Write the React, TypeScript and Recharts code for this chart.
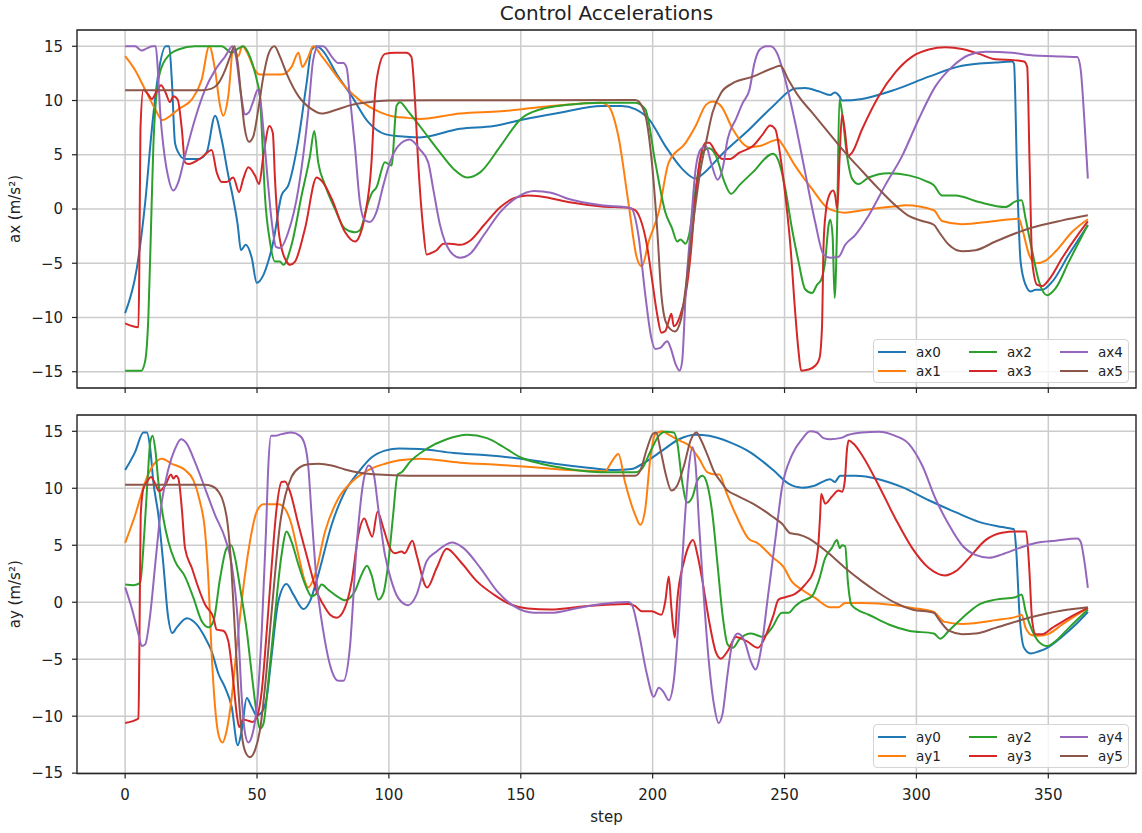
import {
  CartesianGrid,
  Legend,
  Line,
  LineChart,
  ReferenceArea,
  XAxis,
  YAxis,
} from "recharts";

type Pt = [number, number];

const FONT = "'DejaVu Sans', Verdana, sans-serif";
const INK = "#222";

const STEP_TICKS = [0, 50, 100, 150, 200, 250, 300, 350];
const ACC_TICKS = [-15, -10, -5, 0, 5, 10, 15];
const STEP_DOMAIN: [number, number] = [-18.25, 383.25];
const AX_DOMAIN: [number, number] = [-16.5, 16.5];
const AY_DOMAIN: [number, number] = [-15.03, 16.43];

const COLORS = ["#1f77b4", "#ff7f0e", "#2ca02c", "#d62728", "#9467bd", "#8c564b"];

// ---- ax (top panel) ----
const AX0: Pt[] = [
  [0, -9.6], [4.4, -5.5], [7.6, 0.6], [10.1, 7.3], [12.6, 12.5], [15.4, 15], [16.7, 15], [17.7, 11.9],
  [18.9, 6.1], [20.2, 5.2], [22.7, 4.6], [27.8, 4.6], [30.9, 5.2], [34.1, 8.6], [36.6, 6.4], [39.1, 3.1],
  [41, 0.9], [42.7, -1.5], [43.9, -3.8], [45.7, -3.3], [48, -4.5], [49.9, -6.8], [52.4, -6.1], [54.3, -4.8],
  [56.2, -3.0], [59.3, 1.25], [61.9, 2.2], [65.7, 6.4], [68.8, 11.6], [70.7, 14.7], [72.6, 15], [74.5, 14.7],
  [80.8, 12.2], [85.9, 10.4], [92.2, 8], [98.5, 6.9], [104, 6.7], [111.7, 6.6], [127, 7.4], [139.8, 7.65],
  [150, 8.2], [165.3, 8.9], [180.6, 9.5], [188.3, 9.5], [193.4, 9.2], [198.5, 8.3], [204.8, 5.8], [211.2, 3.7],
  [216.3, 2.8], [218.9, 3.2], [226.5, 5.1], [236.7, 7.35], [245.7, 9.5], [254, 11.1], [257.8, 11.15],
  [262.9, 10.85], [267.3, 10.5], [269, 10.75], [270.8, 10.4], [271.8, 10.0], [279.4, 10.15], [292, 11],
  [304.7, 12.2], [317.3, 13.2], [330, 13.5], [336.3, 13.6], [337, 13.4], [338.2, 2.8], [339.5, -4.85],
  [341.4, -7], [343.3, -7.6], [345.2, -7.45], [347.7, -7.45], [351.5, -6.7], [357.8, -4.2], [365, -1.5],
];

const AX1: Pt[] = [
  [0, 14.1], [3.8, 12.8], [7.6, 11], [11.4, 9.2], [14.1, 8.2], [17.7, 8.7], [20.2, 9.2], [25.3, 10.1],
  [29, 11.9], [31.9, 15], [34.1, 12.8], [36, 9.5], [37.2, 8.6], [39.1, 10.4], [41, 14.7], [42.9, 14.1],
  [44.4, 15], [46.7, 14.2], [49.2, 12.8], [51.1, 12.4], [59.3, 12.4], [63.1, 13.1], [65.7, 14.4], [67.2, 13.1],
  [69.4, 14], [71.3, 15], [74.5, 14.1], [83.3, 11.3], [89.6, 9.9], [96, 9], [102.3, 8.5], [107.3, 8.4],
  [111.7, 8.3], [127, 8.8], [142.3, 9.0], [161.5, 9.5], [180.6, 9.8], [183.2, 9.5], [187, 6.7], [190.8, 0.6],
  [194, -4.5], [195.9, -5.3], [198.5, -3.0], [202.3, -0.3], [206.1, 4.3], [212.5, 6.1], [216.3, 7.65],
  [220.2, 9.6], [222.7, 9.9], [225.9, 9.5], [230.4, 7.35], [236.7, 5.7], [240.6, 5.8], [245.7, 6.3],
  [247.7, 6.4], [249, 6], [254, 4], [260.4, 1.86], [266.7, 0.03], [273, -0.34], [279.4, -0.12], [292, 0.24],
  [295.8, 0.34], [306.6, -0.12], [309.7, -1.1], [317.3, -1.4], [330, -1.1], [338.9, -0.9], [340.1, -1.8],
  [342.7, -4.2], [345.2, -5], [349, -4.75], [352.8, -3.9], [359.1, -2.1], [365, -0.95],
];

const AX2: Pt[] = [
  [0, -14.9], [6.1, -14.9], [7.6, -14], [8.8, -10], [9.8, -1.8], [10.7, 5.8], [12.6, 11.9], [15.2, 13.75],
  [20.2, 14.7], [26.5, 15], [32.8, 15], [36.6, 15], [40.4, 14.4], [42.9, 14.8], [44.8, 15], [47.3, 14.05],
  [49.9, 11.9], [51.1, 10.4], [51.8, 7.35], [53, 1.25], [54.9, -3.0], [56.8, -4.85], [58.7, -4.85],
  [60, -5.15], [63.1, -3.3], [66.9, 1.25], [70.1, 4.9], [71.7, 7.2], [73.2, 4.3], [75.8, 2.2], [79.5, 0.03],
  [83.3, -1.8], [87.1, -2.15], [89, -1.95], [92.2, 0.64], [93.4, 1.4], [95.3, 2.0], [98.5, 4.3], [101, 4],
  [102.9, 9.5], [104.2, 9.85], [107.3, 9.0], [111.7, 7.65], [119.4, 5.2], [124.5, 3.7], [129.6, 2.9],
  [134.7, 3.4], [142.3, 5.8], [150, 8.3], [157.7, 9.2], [167.9, 9.6], [180.6, 9.8], [193.4, 9.8],
  [197.2, 9.2], [201, 4.3], [204.8, -0.3], [207.4, -1.8], [209.3, -3.0], [210.6, -2.8], [212.5, -3.2],
  [213.8, -2.4], [216.3, 1.9], [218.9, 5.2], [221.4, 5.6], [224, 4.9], [227.2, 2.5], [229.7, 1.4],
  [232.9, 2.2], [238, 3.4], [245.7, 5.1], [247.7, 4.45], [250.3, 1.86], [252.8, -1.8], [255.3, -4.85],
  [257.8, -7.4], [260.4, -7.75], [262.3, -7], [263.9, -6.5], [265.4, -4.85], [266.7, -1.5], [267.3, -1.0],
  [268.2, -2.4], [269, -8.2], [269.9, -1.8], [270.8, 10.1], [271.8, 8.9], [273.7, 4.9], [275.6, 2.8],
  [278.1, 2.3], [281.9, 2.9], [289.5, 3.3], [297.1, 3.1], [303.4, 2.6], [306.6, 2.2], [309.7, 1.25],
  [314.8, 1.25], [323.7, 0.64], [333.8, 0.18], [337.6, 0.7], [339.9, 0.8], [341.4, -0.9], [343.9, -3.9],
  [346.5, -6.7], [349.6, -7.95], [352.8, -7.3], [357.8, -4.85], [365, -1.45],
];

const AX3: Pt[] = [
  [0, -10.55], [5.05, -10.9], [5.4, -4.85], [5.8, 7.35], [6.9, 11], [8.8, 10.55], [10.1, 10.15], [12, 10.85],
  [13.6, 11.4], [15.4, 10.7], [17, 9.85], [18.3, 10.4], [19.9, 10.1], [21.5, 7.35], [22.7, 4.3], [24, 4.15],
  [29, 4.75], [32.8, 5.45], [34.7, 3.4], [36.6, 2.5], [38.5, 2.5], [41, 2.9], [43.2, 1.55], [44.8, 2.8],
  [46.7, 3.85], [49.2, 3.1], [50.8, 2.3], [52.4, 4.9], [54.7, 7.65], [56, 7.0], [56.8, 2.8], [58.1, -1.8],
  [59.3, -3.6], [61.2, -4.85], [62.5, -5.15], [64.4, -4.85], [68.2, -1.8], [72.6, 2.9], [74.5, 2.6],
  [78.3, 0.95], [83.3, -2.1], [87.1, -3.0], [89, -2.4], [90.9, -0.6], [93.4, 4.3], [94.7, 10.4], [96, 12.8],
  [98.5, 14.3], [102.3, 14.4], [106.6, 14.4], [108.5, 14.05], [109.8, 10.4], [111.1, 4.3], [113, -1.8],
  [114.3, -4.2], [115.6, -4.1], [118.1, -3.8], [120.7, -3.2], [123.2, -3.2], [127, -3.3], [130.9, -2.9],
  [136, -1.5], [142.3, 0.18], [147.4, 1.0], [152.6, 1.25], [157.7, 1.15], [167.9, 0.64], [180.6, 0.24],
  [190.8, 0.12], [193.4, -0.12], [195.3, -0.9], [197.8, -3.3], [199.7, -6.4], [201.7, -9.7], [203.3, -11.4],
  [204.8, -11.25], [206.1, -10.3], [207.1, -9.65], [208, -10.8], [208.9, -10.65], [210.6, -9.7],
  [212.5, -7.9], [214.4, -4.2], [216.3, 1.25], [218.2, 4.9], [220.2, 6.1], [221.4, 6.1], [224, 5.2],
  [226.5, 4.6], [229.1, 4.6], [232.9, 5.2], [238, 5.8], [241.8, 6.9], [244.5, 7.7], [246.5, 7.35],
  [248.4, 4.9], [250.3, 1.25], [252.2, -3.3], [254, -9.4], [255.3, -13.1], [256.3, -14.9], [259.1, -14.8],
  [261.6, -14.45], [263.2, -13.8], [264.2, -10.9], [264.8, -3.3], [265.7, -0.12], [266.7, 1.1], [268.4, 1.7],
  [269.2, 1.25], [270, 0], [270.8, 4.3], [271.8, 8.7], [272.8, 7.35], [274.1, 4.9], [275.6, 5.2],
  [279.4, 7.35], [285.7, 10.4], [292, 12.6], [298.4, 14.05], [304.7, 14.7], [311, 14.9], [317.3, 14.75],
  [323.7, 14.3], [330, 13.8], [337.6, 13.7], [340.8, 13.6], [342, 13.1], [342.9, 4.3], [343.9, -4.85],
  [345.8, -7], [347.7, -7.1], [350.3, -6.5], [355.3, -4.5], [361.6, -2.25], [365, -1.15],
];

const AX4: Pt[] = [
  [0, 15], [3.8, 15], [6.3, 14.6], [8.2, 14.8], [10.4, 15], [11.6, 15], [12.4, 12.8], [13.3, 8.9],
  [14.5, 5.8], [16.2, 3.1], [18.3, 1.7], [20.2, 2.5], [22.7, 4.9], [26.5, 8.3], [30.3, 11], [34.1, 12.8],
  [37.9, 14.05], [40.7, 15], [42, 14.05], [44, 10.4], [45.5, 8.7], [46.9, 8.9], [48.6, 9.95], [50.3, 11],
  [51.1, 10.4], [52.4, 7.35], [54, 2.8], [55.6, -1.2], [57.2, -3.5], [58.7, -3.6], [61.9, -2.1],
  [65.7, 1.86], [69.4, 8.9], [71.3, 13.75], [73.2, 15], [75.1, 15], [78.3, 14.05], [80.8, 13.45],
  [82.7, 13.45], [84, 13], [85.2, 10.4], [87.1, 5.8], [89, 0.64], [90.9, -1.05], [92.8, -1.2], [95.3, -0.27],
  [97.9, 2.2], [100.4, 4.3], [103.5, 5.8], [107.9, 6.4], [111.7, 5.5], [114.9, 4.3], [116.8, 1.86],
  [119.4, -1.5], [123.2, -3.9], [127, -4.5], [130.9, -4.1], [136, -2.4], [142.3, -0.27], [148.7, 1.1],
  [155.1, 1.65], [161.5, 1.5], [167.9, 0.95], [180.6, 0.34], [190.8, 0.12], [192.1, 0], [194.6, -2.4],
  [197.2, -7.9], [199.5, -11.9], [201, -12.9], [202.9, -12.8], [205.5, -12.2], [206.8, -12.8], [208.7, -14.3],
  [210.2, -14.9], [211.2, -14], [212.5, -7.9], [214.4, -1.8], [216.3, 3.7], [218.2, 5.5], [220.2, 5.8],
  [222.1, 4.3], [224.6, 2.7], [226.5, 3.7], [228.4, 6.4], [231.6, 8.3], [234.2, 9.8], [236.7, 11],
  [238.6, 13.45], [240.6, 14.7], [243.1, 15], [244.6, 15], [247.1, 14.4], [250.3, 11.9], [254, 8],
  [257.8, 3.4], [261.6, -1.2], [264.8, -4.2], [267.3, -4.5], [270.5, -4.4], [273, -3.3], [276.8, -2.4],
  [281.9, -0.6], [288.2, 2.2], [294.6, 4.9], [300.9, 8.3], [307.2, 11.3], [313.5, 13.1], [319.9, 14.2],
  [326.2, 14.5], [336.3, 14.4], [342.7, 14.2], [355.3, 14.05], [361, 14], [362.3, 12.8], [363.5, 8.9],
  [365, 2.8],
];

const AX5: Pt[] = [
  [0, 10.95], [29, 10.95], [32.8, 11.1], [35.4, 11.6], [37.9, 12.8], [39.8, 14.05], [41.4, 15], [42.7, 13.45],
  [44, 10.4], [45.2, 7.65], [47, 6.2], [48.6, 6.7], [50.5, 9.2], [52.4, 12.2], [54.5, 14.4], [56.6, 15],
  [58.7, 14.05], [61.2, 12.5], [65.7, 10.4], [70.7, 9.2], [74.5, 8.8], [79.5, 9.1], [85.9, 9.6], [92.2, 9.85],
  [99.7, 10], [193.4, 10.05], [195.9, 9.5], [197.8, 8], [199.7, 4.3], [201.7, -1.8], [203.3, -7.9],
  [204.8, -10.3], [206.8, -11.1], [208.4, -11.3], [210.6, -10.3], [212.5, -7.3], [215.1, -1.8], [218.2, 3.7],
  [220.2, 6.1], [222.7, 8.9], [225.9, 10.7], [230.4, 11.6], [238, 12.2], [245.7, 13], [248.4, 13.2],
  [251.5, 11.9], [255.3, 10.4], [260.4, 8.9], [266.7, 7.05], [273, 5.2], [279.4, 3.5], [285.7, 1.86],
  [292, 0.34], [297.1, -0.64], [302.2, -1.1], [306.6, -1.45], [308.5, -2.1], [312.3, -3.3], [317.3, -3.9],
  [322.4, -3.8], [330, -3.0], [342.7, -1.8], [355.3, -1.05], [365, -0.58],
];

// ---- ay (bottom panel) ----
const AY0: Pt[] = [
  [0, 11.6], [3.8, 13.2], [6.9, 14.9], [8.2, 14.9], [9.5, 13.5], [10.7, 10.55], [12.6, 7.65], [14.5, 3.3],
  [16.2, -1.1], [17.9, -2.7], [19.6, -2.2], [23.4, -1.4], [27.1, -1.95], [30.3, -3.1], [32.8, -4.3],
  [35.4, -6.3], [37.9, -7.5], [40.4, -9.2], [42.7, -12.55], [44.2, -11.25], [46.1, -8.4], [48, -9.2],
  [49.9, -9.95], [51.8, -9.65], [53.7, -8.35], [55.6, -4.55], [58.1, 0.1], [61.2, 1.6], [63.8, 0.67],
  [67.6, -0.6], [70.1, 0.1], [73.2, 2.4], [78.3, 6.8], [83.3, 9.7], [88.4, 11.4], [93.4, 12.7], [98.5, 13.3],
  [104, 13.5], [111.7, 13.45], [124.5, 13.1], [137.2, 12.9], [150, 12.6], [162.8, 12.15], [175.5, 11.8],
  [185.7, 11.6], [192.1, 11.7], [197.2, 12.3], [203.6, 13.3], [210, 14.3], [216.3, 14.7], [221.4, 14.6],
  [229.1, 14.05], [236.7, 13.2], [245.7, 11.6], [251.5, 10.4], [256.6, 10.05], [261.6, 10.25], [267.3, 10.8],
  [269, 10.55], [271.1, 11.1], [276.8, 11.1], [285.7, 10.8], [294.6, 10.1], [304.7, 8.95], [314.8, 7.9],
  [323.7, 7.05], [332.5, 6.6], [337, 6.4], [337.8, 4.7], [339.1, -1.1], [340.8, -4], [343.3, -4.5],
  [346.5, -4.3], [349.6, -4], [355.3, -3], [360.4, -1.95], [365, -0.85],
];

const AY1: Pt[] = [
  [0, 5.2], [3.8, 7.65], [7.6, 10.55], [10.7, 12.05], [13.9, 12.6], [17.7, 12.15], [22.7, 11.6], [25.9, 10.7],
  [28.4, 8.8], [30.3, 6.2], [31.6, 1.8], [32.8, -4.55], [34.1, -9.2], [35.6, -11.8], [36.9, -12.3],
  [38.5, -11.25], [40.4, -8.35], [42.3, -4], [44.8, 1.25], [47.3, 5.3], [49.9, 7.95], [52.4, 8.6],
  [58.1, 8.6], [60.6, 8.2], [63.1, 6.8], [65.7, 4.15], [68.2, 1.8], [69.4, 1.3], [72, 2.4], [75.8, 6.2],
  [80.8, 9.1], [85.9, 10.55], [92.2, 11.6], [98.5, 12.15], [104, 12.45], [111.7, 12.6], [127, 12.25],
  [142.3, 12.05], [155.1, 11.85], [167.9, 11.6], [181.9, 11.5], [184.4, 12.3], [187, 13], [189.5, 10.55],
  [193.4, 7.65], [195.3, 6.8], [197.2, 8.2], [199.1, 12.6], [201, 14.75], [203.6, 15], [206.1, 14.7],
  [210, 14.2], [213.8, 13.75], [217.6, 12.6], [220.8, 11.4], [224, 11.2], [225.3, 11.2], [227.8, 9.7],
  [231.6, 7.65], [236.7, 5.5], [239.3, 5.25], [245.7, 3.9], [249.6, 3.1], [252.8, 1.8], [256.6, 1.1],
  [261.6, 0.38], [267.3, -0.44], [270.5, -0.44], [273, -0.06], [279.4, -0.06], [292, -0.26], [298.4, -0.5],
  [306.6, -0.85], [310.4, -1.7], [317.3, -1.9], [330, -1.57], [338.9, -1.2], [339.9, -1.1], [341.4, -2.25],
  [343.9, -2.9], [346.5, -2.95], [350.3, -2.75], [355.3, -1.95], [365, -0.5],
];

const AY2: Pt[] = [
  [0, 1.55], [3.2, 1.5], [5.7, 1.7], [7.3, 6.2], [8.6, 11.1], [9.5, 14], [10.4, 14.6], [11.4, 13.45],
  [12.6, 10.55], [14.5, 7.35], [16.4, 5.3], [18.9, 3.6], [22.7, 2.25], [25.9, 0.38], [29, -1.65], [31.6, -2.2],
  [33.5, -1.65], [36, 2.1], [38.5, 4.75], [40.2, 5.0], [41.7, 3.85], [43.6, 1.25], [46.1, -2.5], [48, -6.3],
  [49.9, -9.8], [51.1, -11.1], [52.4, -10.7], [54.3, -6.9], [56.8, -1.1], [59.3, 4.15], [61.2, 6.2],
  [63.1, 5.3], [65.7, 3.3], [68.8, 1.25], [70.7, 0.52], [72.2, 0.67], [74.5, 1.55], [77, 1.1], [80.8, 0.44],
  [83.3, 0.17], [87.1, 0.96], [89.6, 2.4], [91.7, 3.2], [93.4, 2.4], [96, 0.23], [97.9, 0.8], [99.7, 3.3],
  [101.6, 7.65], [103.3, 11.2], [104.8, 11.4], [107.9, 12.3], [114.3, 13.45], [121.9, 14.3], [129.6, 14.7],
  [137.2, 14.4], [143.6, 13.6], [150, 12.7], [157.7, 12.15], [167.9, 11.7], [180.6, 11.4], [193.4, 11.4],
  [195.9, 11.7], [199.1, 13.2], [202.3, 14.6], [204.8, 14.95], [208, 14.9], [209.3, 14.05], [211.2, 10.55],
  [213.1, 8.75], [215.1, 9.25], [217, 10.7], [218.9, 11.1], [220.8, 10.25], [222.7, 7.65], [224.6, 3.3],
  [226.5, -1.1], [228.4, -3.7], [230.4, -4], [232.9, -3.25], [237.4, -2.75], [241.8, -3.05], [245.2, -2.25],
  [249, -0.93], [251.5, -0.93], [254, -0.35], [256.6, 0.09], [260.4, 0.52], [262.9, 1.83], [265.4, 3.87],
  [267.9, 4.75], [269.9, 5.45], [270.9, 4.75], [271.8, 5.0], [273, 4.9], [274, 1.83], [275.3, -0.2],
  [277.5, -0.64], [281.9, -1.1], [289.5, -1.95], [297.1, -2.5], [306.6, -2.75], [309.1, -3.2], [312.3, -2.5],
  [317.3, -1.4], [323.7, -0.2], [330, 0.23], [337.6, 0.44], [339.9, 0.67], [341.4, -0.8], [343.9, -2.5],
  [346.5, -3.5], [349.6, -3.85], [352.8, -3.4], [357.8, -2.25], [365, -0.64],
];

const AY3: Pt[] = [
  [0, -10.6], [5.05, -10.2], [5.4, -4], [5.9, 7.65], [6.9, 9.95], [8.2, 10.55], [9.8, 11], [11.4, 10.4],
  [12.9, 9.75], [15.2, 10.25], [17.4, 11.2], [18.3, 10.85], [19.3, 11.1], [20.2, 10.85], [21.5, 8.2],
  [22.7, 4.75], [25.3, 3.0], [27.8, 1.25], [30.3, -0.2], [33.5, -1.37], [34.7, -2.4], [37.2, -2.5],
  [39.1, -3.4], [41, -6.9], [42.3, -9.8], [43.2, -10.95], [44.8, -10.3], [46.7, -10.4], [48.2, -10.5],
  [49.9, -10.1], [51.8, -7.75], [53.7, -2.5], [55.6, 3.3], [57.4, 8.2], [59.3, 10.55], [60.6, 10.6],
  [62.5, 9.7], [65.7, 6.8], [69.4, 3.6], [72.6, 0.96], [75.1, -0.2], [77.7, -1.1], [80.2, -1.37], [83.3, -0.5],
  [85.9, 1.83], [88.4, 5.9], [90.7, 7.35], [92.2, 6.5], [93.7, 5.75], [95.7, 7.95], [97.9, 6.5], [100.4, 4.75],
  [102.3, 4.3], [104.8, 4.45], [106, 4.3], [108.9, 5.4], [110.5, 4.15], [114.5, 1.3], [118.1, 3.0],
  [121.9, 4.7], [127, 3.6], [133.4, 1.83], [139.8, 0.67], [146.2, -0.2], [152.6, -0.55], [161.5, -0.64],
  [174.2, -0.35], [184.4, -0.2], [190.8, -0.15], [193.4, -0.35], [195.9, -0.8], [199.7, -0.8], [203.3, -1.1],
  [204.8, 0.09], [206.1, 2.25], [207.1, -0.5], [208.4, -3.1], [209.3, 0.09], [211.9, 3.6], [213.8, 5.0],
  [215.3, 5.45], [217, 4.15], [218.9, 1.83], [221.4, -1.65], [224, -4.4], [225.9, -4.95], [228.4, -4.3],
  [231.6, -3.05], [235.5, -3.4], [239.9, -4.0], [243.1, -2.8], [245.7, -1.2], [247.7, 0.23], [250.3, 0.44],
  [254, 0.73], [257.8, 1.55], [261, 2.7], [262.7, 4.75], [263.5, 7.65], [263.9, 9.5], [265.4, 8.65],
  [267.9, 9.25], [270.5, 9.8], [271.8, 9.7], [272.8, 10.55], [273.7, 13.45], [274.3, 14.2], [276.2, 13.9],
  [279.4, 12.9], [285.7, 10.25], [292, 7.35], [298.4, 4.75], [304.7, 3.0], [310.9, 2.35], [314.8, 2.7],
  [319.9, 3.87], [326.2, 5.45], [332.5, 6.1], [337.6, 6.2], [341.6, 6.2], [342.7, 3.3], [343.9, -1.65],
  [345.2, -2.8], [347.7, -2.8], [351.5, -2.25], [357.8, -1.37], [365, -0.5],
];

const AY4: Pt[] = [
  [0, 1.3], [2.5, -0.5], [5.05, -2.8], [6.3, -3.85], [7.6, -3.7], [9.5, -1.1], [11.4, 3.3], [13.9, 8.8],
  [16.4, 11.7], [18.9, 13.45], [21.2, 14.3], [23.4, 13.9], [26.5, 12.3], [30.3, 10], [34.1, 7.65],
  [37.9, 5.6], [40.4, 3.3], [42.7, -1.65], [44.2, -8.35], [45.5, -11.55], [46.7, -12.3], [48, -11.8],
  [49.9, -9.2], [51.8, -2.5], [53.4, 6.2], [54.3, 12], [55.3, 14.6], [56.8, 14.6], [59.3, 14.75], [63.1, 14.9],
  [66.3, 14.6], [68.2, 13.75], [69.4, 12], [70.7, 7.65], [72.6, 1.83], [75.1, -2.5], [78.3, -6], [80.8, -6.9],
  [82.7, -6.9], [85.2, -4], [87.7, 4.75], [90.3, 10.55], [92.4, 12], [94.1, 11.4], [96, 8.2], [98.5, 4.15],
  [101, 1.83], [103.5, 0.38], [107.3, -0.26], [110.5, 0.67], [114.3, 3.6], [118.1, 4.45], [123.9, 5.25],
  [128.3, 4.75], [134.7, 3.0], [141.1, 0.96], [147.4, -0.35], [155.1, -0.93], [161.5, -0.93], [171.7, -0.5],
  [180.6, -0.15], [190.8, 0.03], [192.1, -0.2], [194.6, -2.5], [197.8, -6.3], [200.4, -8.3], [202.3, -7.5],
  [204.2, -7.9], [206.1, -8.6], [208, -6.9], [210, -1.1], [211.9, 6.2], [213.8, 12], [215.1, 13.6],
  [216.3, 12], [217.6, 6.8], [219.5, 0.09], [221.4, -5.45], [223.4, -9.2], [225, -10.6], [226.5, -9.8],
  [228.4, -6.3], [230.4, -3.4], [232.3, -2.75], [234.8, -3.4], [237.4, -5.3], [239, -5.9], [241.2, -4],
  [243.7, 0.5], [246.5, 5.5], [249, 10.0], [252.8, 12.9], [256.6, 14.3], [259.7, 15], [262.3, 14.9],
  [264.8, 14.4], [267.3, 14.3], [271.1, 14.4], [274.3, 14.7], [279.4, 14.9], [285.7, 14.97], [292, 14.6],
  [297.1, 13.9], [302.2, 12], [307.2, 9.1], [312.3, 6.8], [317.3, 5.0], [322.4, 4.15], [327.5, 3.9],
  [332.5, 4.2], [338.9, 4.75], [345.2, 5.2], [352.8, 5.4], [361, 5.6], [362.3, 5.3], [363.5, 3.87], [365, 1.25],
];

const AY5: Pt[] = [
  [0, 10.3], [30.3, 10.3], [32.8, 10.2], [35.4, 9.7], [37.2, 8.8], [38.9, 6.8], [40.2, 3.3], [41.4, -1.65],
  [42.7, -6.9], [44.2, -11.55], [45.7, -13.2], [47.3, -13.6], [49.2, -13], [51.1, -11.25], [53, -7.5],
  [54.9, -2.5], [56.8, 2.4], [58.7, 6.8], [60.6, 9.25], [63.1, 11], [66.3, 11.85], [69.4, 12.1], [73.2, 12.15],
  [78.3, 12], [83.3, 11.65], [89.6, 11.35], [96, 11.2], [107.3, 11.1], [193.4, 11.1], [195.3, 11.55],
  [197.8, 13.45], [200, 14.75], [201.3, 14.9], [202.9, 13.45], [205.1, 11.1], [207.1, 9.8], [209.3, 10.25],
  [211.9, 12], [214.4, 14.2], [216.6, 14.9], [218.2, 14.3], [220.8, 12.9], [223.4, 11.4], [225.9, 10.55],
  [228.4, 9.8], [231.6, 9.4], [238, 8.65], [241.8, 8.1], [245.5, 7.5], [249, 6.9], [252.2, 6.05],
  [255.3, 5.95], [259.1, 5.6], [262.9, 5.0], [266.7, 4.3], [273, 3.0], [279.4, 1.83], [285.7, 0.81],
  [292, -0.06], [298.4, -0.64], [306.6, -0.93], [308.5, -1.5], [312.3, -2.5], [317.3, -2.8], [322.4, -2.75],
  [330, -2.25], [342.7, -1.37], [355.3, -0.73], [365, -0.44],
];

const AX_SERIES = [AX0, AX1, AX2, AX3, AX4, AX5];
const AY_SERIES = [AY0, AY1, AY2, AY3, AY4, AY5];

const toRows = (pts: Pt[]) => pts.map(([step, v]) => ({ step, v }));

const fmtTick = (v: number) => (v < 0 ? `\u2212${Math.abs(v)}` : `${v}`);

function LegendBox({ prefix }: { prefix: string }) {
  return (
    <div
      style={{
        width: 256,
        height: 44,
        boxSizing: "border-box",
        border: "1px solid #d4d4d4",
        borderRadius: 4,
        background: "rgba(255,255,255,0.8)",
        display: "grid",
        gridTemplateColumns: "repeat(3, 91px)",
        gridTemplateRows: "repeat(2, 19.5px)",
        gridAutoFlow: "column",
        padding: "2px 0 0 4px",
        fontFamily: FONT,
        fontSize: 13.5,
        color: INK,
      }}
    >
      {COLORS.map((c, i) => (
        <div key={i} style={{ display: "flex", alignItems: "center" }}>
          <span style={{ display: "inline-block", width: 28, height: 2, background: c, marginRight: 10 }} />
          <span>{`${prefix}${i}`}</span>
        </div>
      ))}
    </div>
  );
}

type PanelProps = {
  prefix: string;
  series: Pt[][];
  domain: [number, number];
  height: number;
  marginTop: number;
  axisHeight: number;
  showSteps: boolean;
  legendTop: number;
};

function Panel({ prefix, series, domain, height, marginTop, axisHeight, showSteps, legendTop }: PanelProps) {
  const tickStyle = { fill: INK, fontSize: 15, fontFamily: FONT };
  return (
    <LineChart width={1142} height={height} margin={{ top: marginTop, right: 6, bottom: 0, left: 0 }}>
      <CartesianGrid stroke="#cccccc" strokeWidth={1.5} />
      <XAxis
        dataKey="step"
        type="number"
        domain={STEP_DOMAIN}
        ticks={STEP_TICKS}
        allowDataOverflow
        axisLine={false}
        tickLine={{ stroke: INK, strokeWidth: 1.2 }}
        tickSize={5}
        tickMargin={11}
        height={axisHeight}
        tick={tickStyle}
        tickFormatter={showSteps ? fmtTick : () => ""}
        label={
          showSteps
            ? { value: "step", position: "insideBottom", offset: 11, fill: INK, fontSize: 15, fontFamily: FONT }
            : undefined
        }
      />
      <YAxis
        type="number"
        domain={domain}
        ticks={ACC_TICKS}
        allowDataOverflow
        width={77}
        axisLine={false}
        tickLine={{ stroke: INK, strokeWidth: 1.2 }}
        tickSize={5}
        tickMargin={9}
        tick={tickStyle}
        tickFormatter={fmtTick}
        label={{
          value: `${prefix} (m/s\u00b2)`,
          angle: -90,
          position: "insideLeft",
          offset: 15,
          textAnchor: "middle",
          fill: INK,
          fontSize: 15,
          fontFamily: FONT,
        }}
      />
      {series.map((pts, i) => (
        <Line
          key={i}
          data={toRows(pts)}
          dataKey="v"
          name={`${prefix}${i}`}
          type="monotone"
          stroke={COLORS[i]}
          strokeWidth={2}
          dot={false}
          activeDot={false}
          isAnimationActive={false}
        />
      ))}
      <ReferenceArea
        x1={STEP_DOMAIN[0]}
        x2={STEP_DOMAIN[1]}
        y1={domain[0]}
        y2={domain[1]}
        fill="none"
        fillOpacity={0}
        stroke="#262626"
        strokeWidth={1.3}
        ifOverflow="visible"
      />
      <Legend
        layout="horizontal"
        verticalAlign="middle"
        align="center"
        wrapperStyle={{ left: 873, top: legendTop, width: 256, height: 44 }}
        content={() => <LegendBox prefix={prefix} />}
      />
    </LineChart>
  );
}

export default function App() {
  return (
    <div
      style={{
        position: "absolute",
        left: 0,
        top: 0,
        width: 1142,
        height: 833,
        background: "#fff",
        fontFamily: FONT,
      }}
    >
      <div
        style={{
          position: "absolute",
          left: 77,
          width: 1059,
          top: 3,
          textAlign: "center",
          fontSize: 20,
          lineHeight: "20px",
          color: INK,
        }}
      >
        Control Accelerations
      </div>
      <div style={{ position: "absolute", left: 0, top: 0 }}>
        <Panel
          prefix="ax"
          series={AX_SERIES}
          domain={AX_DOMAIN}
          height={400}
          marginTop={30}
          axisHeight={12}
          showSteps={false}
          legendTop={339}
        />
      </div>
      <div style={{ position: "absolute", left: 0, top: 400 }}>
        <Panel
          prefix="ay"
          series={AY_SERIES}
          domain={AY_DOMAIN}
          height={433}
          marginTop={15}
          axisHeight={59.5}
          showSteps
          legendTop={324}
        />
      </div>
    </div>
  );
}
